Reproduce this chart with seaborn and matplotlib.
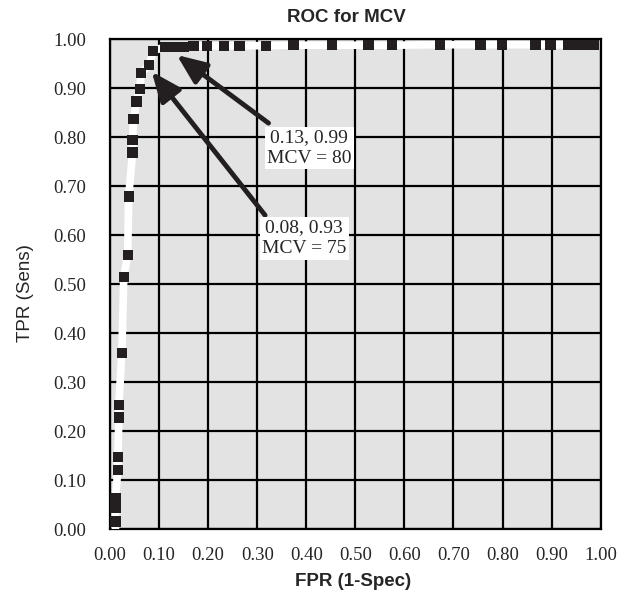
import numpy as np
import pandas as pd
import seaborn as sns
import matplotlib.pyplot as plt

# ROC points (FPR = 1-Spec, TPR = Sens)
fpr = [0.011, 0.011, 0.011, 0.016, 0.016, 0.018, 0.018, 0.024, 0.028, 0.036,
       0.038, 0.046, 0.046, 0.048, 0.054, 0.061, 0.063, 0.080, 0.088, 0.112,
       0.130, 0.150, 0.170, 0.197, 0.233, 0.264, 0.318, 0.374, 0.452, 0.527,
       0.575, 0.673, 0.755, 0.799, 0.867, 0.898, 0.933, 0.952, 0.969, 0.986]
tpr = [0.016, 0.043, 0.064, 0.121, 0.147, 0.228, 0.254, 0.360, 0.515, 0.560,
       0.679, 0.769, 0.795, 0.837, 0.873, 0.899, 0.931, 0.948, 0.976, 0.985,
       0.985, 0.985, 0.986, 0.986, 0.987, 0.987, 0.987, 0.988, 0.988, 0.988,
       0.988, 0.989, 0.989, 0.989, 0.989, 0.989, 0.989, 0.989, 0.989, 0.989]
# curve starts at the origin (no marker there)
start_fpr, start_tpr = 0.011, 0.0

ticks = [0.0, 0.1, 0.2, 0.3, 0.4, 0.5, 0.6, 0.7, 0.8, 0.9, 1.0]

ann_text = ["0.13, 0.99\nMCV = 80", "0.08, 0.93\nMCV = 75"]
ann_point = [(0.136, 0.968), (0.085, 0.934)]
ann_tail = [(0.323, 0.829), (0.316, 0.641)]
ann_box = [(0.406, 0.778), (0.396, 0.594)]

df = pd.DataFrame({"FPR": fpr, "TPR": tpr})
line_df = pd.DataFrame({"FPR": [start_fpr] + fpr, "TPR": [start_tpr] + tpr})

sns.set_style("white", {"axes.facecolor": "#e3e3e3"})
plt.rcParams["font.family"] = ["Liberation Serif", "DejaVu Serif"]

fig = plt.figure(figsize=(6.28, 6.04), dpi=100)
ax = fig.add_axes([0.1752, 0.1237, 0.7813, 0.8112])

ax.set_xlim(0, 1)
ax.set_ylim(0, 1)
ax.set_xticks(ticks)
ax.set_yticks(ticks)
ax.set_xticklabels(["%.2f" % t for t in ticks])
ax.set_yticklabels(["%.2f" % t for t in ticks])
ax.grid(True, color="black", lw=1.6, zorder=1)
ax.set_axisbelow(True)
for s in ax.spines.values():
    s.set_visible(True)
    s.set_color("black")
    s.set_linewidth(1.6)
ax.tick_params(axis="both", labelsize=13.5, length=2, width=1.2, color="black")
ax.tick_params(axis="x", pad=11)
ax.tick_params(axis="y", pad=15)

sns.lineplot(data=line_df, x="FPR", y="TPR", sort=False, estimator=None,
             color="white", lw=5.5, ax=ax, zorder=3)
sns.scatterplot(data=df, x="FPR", y="TPR", marker="s", s=55, color="#231f20",
                edgecolor="none", ax=ax, zorder=4)
ax.set_xlabel("")
ax.set_ylabel("")

for txt, pt, tail, box in zip(ann_text, ann_point, ann_tail, ann_box):
    ax.annotate("", xy=pt, xytext=tail,
                arrowprops=dict(arrowstyle="-|>,head_length=1.0,head_width=0.42",
                                mutation_scale=18, lw=3.5, color="#231f20",
                                shrinkA=0, shrinkB=0), zorder=5)
    ax.text(box[0], box[1], txt, ha="center", va="center", fontsize=14,
            linespacing=1.3, zorder=6,
            bbox=dict(boxstyle="square,pad=0.12", fc="white", ec="none"))

sans = ["Liberation Sans", "DejaVu Sans"]
fig.text(0.552, 0.971, "ROC for MCV", ha="center", va="center",
         fontsize=13.5, fontweight="bold", family=sans)
fig.text(0.562, 0.038, "FPR (1-Spec)", ha="center", va="center",
         fontsize=13.5, fontweight="bold", family=sans)
fig.text(0.0414, 0.515, "TPR (Sens)", ha="center", va="center",
         rotation=90, fontsize=13.5, family=sans)

fig.savefig("out.png", dpi=100)
